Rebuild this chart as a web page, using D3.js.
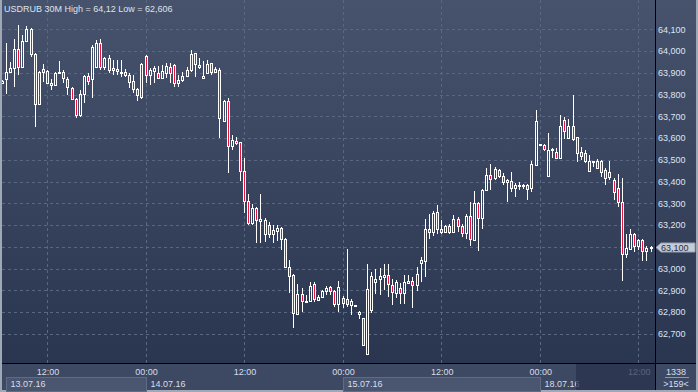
<!DOCTYPE html>
<html>
<head>
<meta charset="utf-8">
<script src="https://cdn.jsdelivr.net/npm/d3@7"></script>
<style>
html, body { margin: 0; padding: 0; background: #9ea8b6; }
svg { display: block; }
text { font-family: "Liberation Sans", Arial, sans-serif; font-size: 9px; }
</style>
</head>
<body>
<svg id="chart"></svg>
<script>
// USDRUB 30M candles, 13.07.16 06:30 -> 18.07.16 13:30
const symbol = "USDRUB";
const period = "30M";

const opens = [63.853,63.870,63.902,63.923,64.008,63.928,64.048,64.100,63.985,63.755,
  63.916,63.910,63.855,63.843,63.898,63.902,63.870,63.829,63.778,63.706,
  63.803,63.885,63.870,63.928,64.036,63.928,63.967,63.913,63.919,63.898,
  63.902,63.888,63.864,63.824,63.790,63.977,63.890,63.910,63.898,63.875,
  63.900,63.928,63.936,63.855,63.867,63.885,63.913,63.990,63.936,63.875,
  63.898,63.944,63.905,63.913,63.680,63.770,63.565,63.586,63.580,63.449,
  63.312,63.208,63.277,63.220,63.157,63.200,63.159,63.173,63.185,63.134,
  63.009,62.970,62.790,62.882,62.846,62.851,62.927,62.855,62.868,62.897,
  62.914,62.897,62.836,62.866,62.860,62.833,62.833,62.790,62.771,62.607,
  62.809,62.940,62.951,62.962,62.970,62.924,62.889,62.909,62.886,62.935,
  62.944,62.924,63.027,63.036,63.180,63.169,63.261,63.182,63.169,63.196,
  63.169,63.226,63.196,63.165,63.242,63.131,63.303,63.231,63.361,63.430,
  63.415,63.453,63.425,63.399,63.404,63.369,63.380,63.380,63.382,63.369,
  63.476,63.571,63.568,63.427,63.544,63.535,63.507,63.683,63.602,63.657,
  63.603,63.537,63.530,63.449,63.491,63.494,63.494,63.453,63.422,63.407,
  63.369,63.305,63.066,63.089,63.157,63.105,63.131,63.081,63.096];

const highs = [63.867,64.037,63.950,64.055,64.120,64.074,64.115,64.106,63.990,63.908,
  63.940,63.913,63.871,63.903,63.954,63.913,63.881,63.835,63.784,63.821,
  63.890,63.899,64.028,64.051,64.055,63.973,63.982,63.959,63.959,63.959,
  63.917,63.899,63.890,63.830,63.946,63.982,63.921,63.931,63.931,63.936,
  63.944,63.944,63.940,63.890,63.905,63.925,64.005,63.992,63.967,63.956,
  63.959,63.946,63.928,63.921,63.775,63.783,63.614,63.606,63.583,63.507,
  63.343,63.297,63.284,63.343,63.232,63.214,63.200,63.200,63.193,63.140,
  63.039,62.975,62.929,62.911,62.878,62.938,62.938,62.878,62.901,62.921,
  62.921,62.901,62.943,62.875,63.090,62.860,62.834,62.805,62.774,63.021,
  62.986,62.998,63.001,63.019,63.019,62.950,62.947,62.935,62.970,62.970,
  62.962,63.009,63.055,63.226,63.251,63.266,63.292,63.223,63.200,63.205,
  63.246,63.235,63.205,63.251,63.307,63.358,63.307,63.364,63.461,63.481,
  63.468,63.459,63.438,63.410,63.443,63.395,63.400,63.388,63.387,63.494,
  63.729,63.572,63.571,63.622,63.556,63.553,63.706,63.698,63.688,63.798,
  63.606,63.559,63.545,63.522,63.495,63.503,63.499,63.461,63.494,63.415,
  63.433,63.415,63.157,63.182,63.162,63.136,63.136,63.105,63.105];

const lows = [63.848,63.802,63.899,63.835,63.890,63.922,64.046,63.973,63.651,63.752,
  63.858,63.850,63.821,63.839,63.897,63.853,63.798,63.775,63.692,63.697,
  63.761,63.844,63.784,63.926,63.913,63.913,63.899,63.890,63.890,63.881,
  63.881,63.830,63.807,63.770,63.780,63.853,63.844,63.853,63.871,63.871,
  63.875,63.855,63.833,63.833,63.859,63.880,63.905,63.879,63.916,63.870,
  63.894,63.890,63.898,63.599,63.675,63.438,63.545,63.568,63.404,63.257,
  63.200,63.200,63.119,63.117,63.122,63.140,63.117,63.127,63.085,63.002,
  62.888,62.728,62.786,62.802,62.845,62.846,62.848,62.850,62.863,62.878,
  62.878,62.825,62.799,62.820,62.825,62.786,62.832,62.767,62.645,62.606,
  62.794,62.883,62.878,62.901,62.871,62.832,62.863,62.837,62.837,62.932,
  62.817,62.898,62.940,62.963,63.134,63.150,63.159,63.159,63.162,63.159,
  63.162,63.169,63.146,63.134,63.104,63.128,63.082,63.180,63.358,63.361,
  63.407,63.415,63.384,63.307,63.353,63.330,63.361,63.364,63.315,63.353,
  63.473,63.570,63.542,63.427,63.507,63.507,63.504,63.596,63.596,63.586,
  63.491,63.499,63.484,63.445,63.468,63.461,63.422,63.384,63.407,63.315,
  63.284,62.943,63.047,63.085,63.077,63.085,63.034,63.034,63.077];

const closes = [63.862,63.902,63.923,64.008,63.928,64.048,64.100,63.985,63.755,63.905,
  63.902,63.855,63.843,63.900,63.902,63.875,63.833,63.778,63.706,63.803,
  63.885,63.864,64.020,64.036,63.928,63.967,63.913,63.921,63.908,63.905,
  63.888,63.859,63.824,63.798,63.940,63.890,63.913,63.921,63.875,63.910,
  63.931,63.900,63.852,63.867,63.885,63.913,63.986,63.940,63.925,63.885,
  63.940,63.905,63.917,63.691,63.770,63.565,63.591,63.576,63.449,63.312,
  63.208,63.277,63.223,63.228,63.223,63.157,63.177,63.185,63.134,63.009,
  62.967,62.794,62.882,62.851,62.851,62.921,62.860,62.868,62.897,62.912,
  62.897,62.836,62.914,62.840,62.836,62.851,62.833,62.799,62.648,62.905,
  62.966,62.951,62.966,62.970,62.927,62.893,62.940,62.886,62.940,62.944,
  62.924,62.975,63.039,63.180,63.169,63.257,63.180,63.169,63.196,63.169,
  63.226,63.196,63.165,63.242,63.134,63.303,63.231,63.361,63.430,63.410,
  63.456,63.425,63.399,63.407,63.369,63.384,63.384,63.385,63.364,63.479,
  63.678,63.571,63.548,63.545,63.550,63.510,63.657,63.632,63.657,63.596,
  63.530,63.519,63.494,63.494,63.494,63.464,63.443,63.418,63.443,63.353,
  63.305,63.066,63.093,63.157,63.105,63.131,63.081,63.096,63.100];

const priceTicks = [62.7,62.8,62.9,63.0,63.1,63.2,63.3,63.4,63.5,63.6,63.7,63.8,63.9,64.0,64.1];
const timeTickIndex = [11,35,59,83,107,131,155];
const timeTickLabels = ["12:00","00:00","12:00","00:00","12:00","00:00","12:00"];
const dayStartIndex = [0,35,83,131];
const dayLabels = ["13.07.16","14.07.16","15.07.16","18.07.16"];
const barCount = "1338";
const visibleBars = ">159<";

const W = 698, H = 392;
const plot = { left: 2, right: 655, top: 0, bottom: 363 };
const axisRight = 696;

const fmt = v => d3.format(".3f")(v).replace(".", ",");
const fmtShort = v => (+v.toFixed(3)).toString().replace(".", ",");

const svg = d3.select("#chart").attr("width", W).attr("height", H);

const defs = svg.append("defs");
const grad = defs.append("linearGradient").attr("id", "bg").attr("x1", 0).attr("y1", 0).attr("x2", 0).attr("y2", 1);
grad.append("stop").attr("offset", "0%").attr("stop-color", "#47526c");
grad.append("stop").attr("offset", "100%").attr("stop-color", "#2a3550");
defs.append("clipPath").attr("id", "plotClip").append("rect")
  .attr("x", plot.left).attr("y", plot.top)
  .attr("width", plot.right - plot.left).attr("height", plot.bottom - plot.top);

// frame + backgrounds
svg.append("rect").attr("width", W).attr("height", H).attr("fill", "#9ea8b6");
svg.append("rect").attr("x", plot.left).attr("y", 0).attr("width", axisRight - plot.left).attr("height", plot.bottom)
  .attr("fill", "url(#bg)");
svg.append("rect").attr("x", plot.left).attr("y", plot.bottom).attr("width", axisRight - plot.left).attr("height", H - 2 - plot.bottom)
  .attr("fill", "#3d4862");

// scales
const x = d3.scaleLinear().domain([0, 158]).range([2.8, 2.8 + 158 * 4.106]);
const y = d3.scaleLinear().domain([62.7, 64.1]).range([333.8, 29.3]);

// grid
const grid = svg.append("g").attr("clip-path", "url(#plotClip)")
  .attr("stroke", "#5a6782").attr("stroke-dasharray", "3,3").attr("shape-rendering", "crispEdges");
grid.selectAll("line.h").data(priceTicks).join("line").attr("class", "h")
  .attr("x1", plot.left).attr("x2", plot.right)
  .attr("y1", d => Math.round(y(d)) + 0.5).attr("y2", d => Math.round(y(d)) + 0.5);
grid.selectAll("line.v").data(timeTickIndex).join("line").attr("class", "v")
  .attr("y1", plot.top).attr("y2", plot.bottom)
  .attr("x1", d => Math.round(x(d)) - 0.5).attr("x2", d => Math.round(x(d)) - 0.5);

// candles
const candles = d3.range(opens.length).map(i => ({ i, o: opens[i], h: highs[i], l: lows[i], c: closes[i] }));
const cg = svg.append("g").attr("clip-path", "url(#plotClip)").attr("shape-rendering", "crispEdges");
const bar = cg.selectAll("g").data(candles).join("g");
bar.each(function (d) {
  const g = d3.select(this);
  const cx = Math.round(x(d.i));
  let top = Math.round(y(Math.max(d.o, d.c)));
  let bot = Math.round(y(Math.min(d.o, d.c)));
  if (bot - top < 1) bot = top + 1;
  const hi = Math.round(y(d.h)), lo = Math.round(y(d.l));
  if (hi < top) g.append("line").attr("x1", cx - 0.5).attr("x2", cx - 0.5).attr("y1", hi).attr("y2", top).attr("stroke", "#fff");
  if (lo > bot) g.append("line").attr("x1", cx - 0.5).attr("x2", cx - 0.5).attr("y1", bot).attr("y2", lo).attr("stroke", "#fff");
  g.append("rect")
    .attr("x", cx - 1.5).attr("y", top + 0.5)
    .attr("width", 2).attr("height", bot - top)
    .attr("fill", d.c < d.o ? "#e4143c" : "none")
    .attr("stroke", "#fff").attr("stroke-width", 1);
});

// header
svg.append("text").attr("x", 4).attr("y", 11.5).attr("fill", "#dde4ee")
  .text(`${symbol} ${period} High = ${fmtShort(d3.max(highs))} Low = ${fmtShort(d3.min(lows))}`);

// price axis (the tick under the current price tag is covered by the tag)
const last = closes[closes.length - 1];
svg.append("g").selectAll("text").data(priceTicks.filter(d => Math.abs(d - last) > 0.02)).join("text")
  .attr("x", 658).attr("y", d => y(d) + 3.2)
  .attr("fill", "#dce6f4")
  .text(d => fmt(d));

// current price tag
const yl = Math.round(y(last)) + 0.5;
svg.append("path")
  .attr("d", `M656,${yl} L661,${yl - 4.5} L695,${yl - 4.5} L695,${yl + 4.5} L661,${yl + 4.5} Z`)
  .attr("fill", "#c6cbd4").attr("stroke", "#98a1b0");
svg.append("text").attr("x", 661).attr("y", yl + 3.2).attr("fill", "#26304a").text(fmt(last));

// time axis: day boxes
const days = dayStartIndex.map((s, k) => ({
  x0: Math.max(Math.round(x(s)) - 0.5, 6.5),
  x1: k + 1 < dayStartIndex.length ? Math.round(x(dayStartIndex[k + 1])) - 0.5 : plot.right,
  label: dayLabels[k], shaded: k % 2 === 0 && k < dayStartIndex.length - 1
}));
svg.append("g").selectAll("rect").data(days.filter(d => d.shaded)).join("rect")
  .attr("x", d => d.x0).attr("y", 377.5).attr("width", d => d.x1 - d.x0).attr("height", 14)
  .attr("fill", "#4a5570").attr("stroke", "#606c84");
svg.append("g").selectAll("text").data(days).join("text")
  .attr("x", d => d.x0 + 4).attr("y", 386.5).attr("fill", "#d8dfea").text(d => d.label);

svg.append("g").selectAll("text").data(timeTickIndex).join("text")
  .attr("x", d => x(d)).attr("y", 375).attr("text-anchor", "middle").attr("fill", "#d8dfea")
  .text((d, k) => timeTickLabels[k]);

// dark strip at the right end of the time axis
svg.append("rect").attr("x", 576).attr("y", 364).attr("width", plot.right - 576).attr("height", H - 2 - 364)
  .attr("fill", "#27314b").attr("opacity", 0.72);

// corner box
svg.append("text").attr("x", 676).attr("y", 375).attr("text-anchor", "middle").attr("fill", "#d8dfea").text(barCount);
svg.append("line").attr("x1", 665).attr("x2", 689).attr("y1", 377.5).attr("y2", 377.5).attr("stroke", "#8d98aa");
svg.append("text").attr("x", 676).attr("y", 386.5).attr("text-anchor", "middle").attr("fill", "#d8dfea").text(visibleBars);

// separators
svg.append("line").attr("x1", 655.5).attr("x2", 655.5).attr("y1", 0).attr("y2", H - 2).attr("stroke", "#000");
svg.append("line").attr("x1", plot.left).attr("x2", axisRight).attr("y1", 363.5).attr("y2", 363.5).attr("stroke", "#000");
</script>
</body>
</html>
